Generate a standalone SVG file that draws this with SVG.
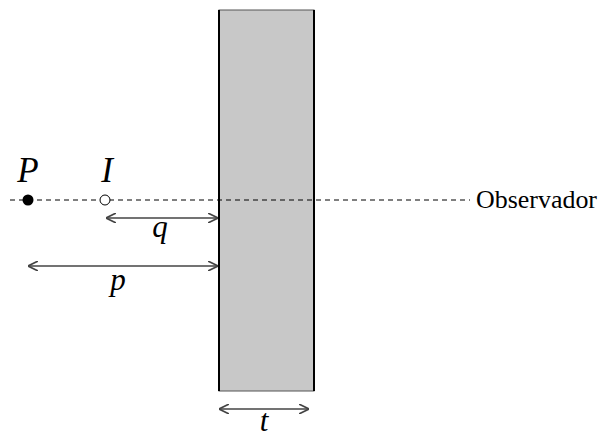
<svg xmlns="http://www.w3.org/2000/svg" width="601" height="433" viewBox="0 0 601 433">
<style>
.lbl{font-style:italic;fill:#000}
.obs{fill:#000}
.dim{stroke:#444;stroke-width:1.6;fill:none}
.dash{stroke:#000;stroke-width:1;stroke-dasharray:5,4;fill:none}
</style>
<defs>
<marker id="ah" viewBox="0 0 10 10" refX="10" refY="5" markerWidth="10" markerHeight="10" markerUnits="userSpaceOnUse" orient="auto-start-reverse">
<path d="M0,0 L10,5 L0,10" fill="none" stroke="#444" stroke-width="1.6"/>
</marker>
</defs>
<rect width="601" height="433" fill="#fff"/>
<g id="slab">
<rect x="219" y="10" width="95" height="381" fill="#c8c8c8" stroke="#555" stroke-width="1"/>
<line x1="219" y1="10" x2="219" y2="391" stroke="#000" stroke-width="2"/>
<line x1="314" y1="10" x2="314" y2="391" stroke="#000" stroke-width="2"/>
</g>
<g id="connectors">
<line class="dash" x1="10" y1="200" x2="470" y2="200"/>
<line class="dim" x1="106" y1="218" x2="218" y2="218" marker-start="url(#ah)" marker-end="url(#ah)"/>
<line class="dim" x1="28" y1="266" x2="218" y2="266" marker-start="url(#ah)" marker-end="url(#ah)"/>
<line class="dim" x1="219" y1="409" x2="309" y2="409" marker-start="url(#ah)" marker-end="url(#ah)"/>
</g>
<g font-family="Liberation Serif, serif">
<g id="P">
<circle cx="28" cy="200" r="5.5" fill="#000"/>
<text class="lbl" x="28" y="182" font-size="35" text-anchor="middle">P</text>
</g>
<g id="I">
<circle cx="105" cy="200" r="5" fill="#fff" stroke="#000" stroke-width="1"/>
<text class="lbl" x="107" y="182" font-size="35" text-anchor="middle">I</text>
</g>
<g id="labels">
<text class="lbl" x="160" y="237" font-size="31" text-anchor="middle">q</text>
<text class="lbl" x="118" y="290" font-size="31" text-anchor="middle">p</text>
<text class="lbl" x="264" y="431" font-size="31" text-anchor="middle">t</text>
<text class="obs" x="476" y="208" font-size="26" textLength="121" lengthAdjust="spacingAndGlyphs">Observador</text>
</g>
</g>
</svg>
